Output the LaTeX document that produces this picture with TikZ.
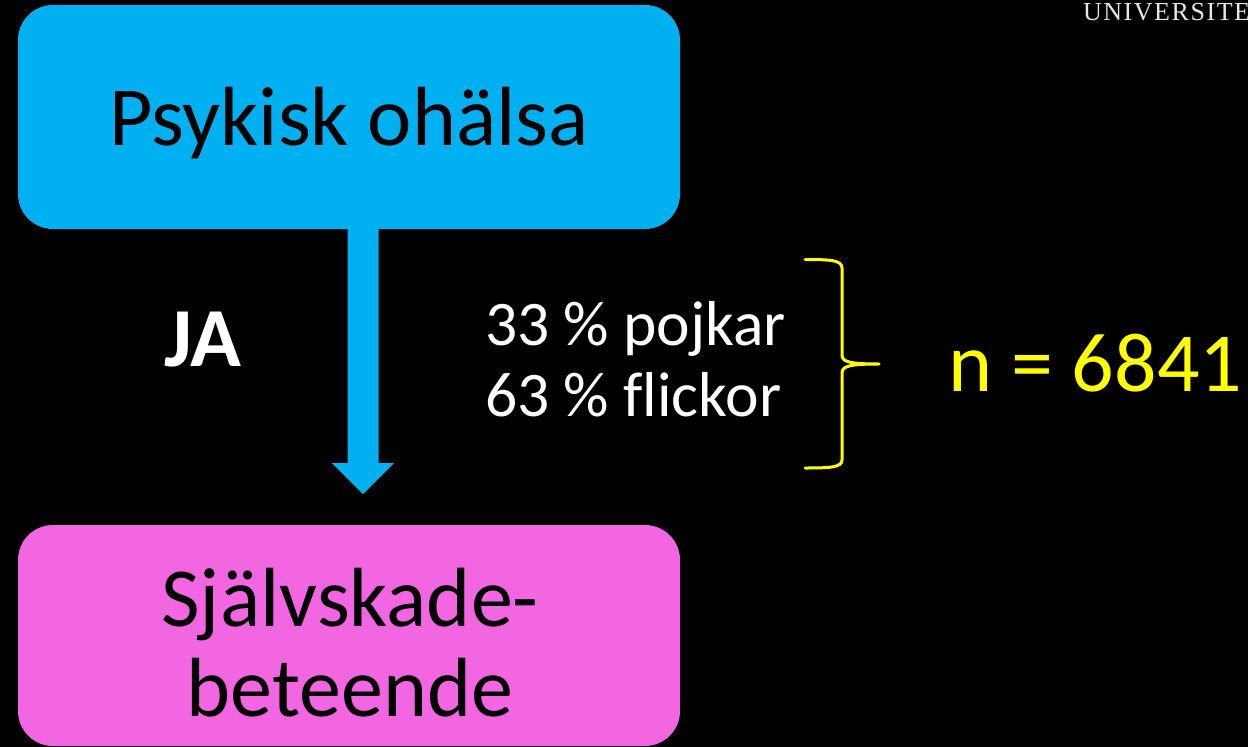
\documentclass[tikz,border=0pt]{standalone}
\usepackage{fontspec}
\setmainfont{Carlito}[Ligatures=NoCommon]
\newfontfamily\unifont[LetterSpace=6]{Liberation Serif}
\definecolor{boxblue}{HTML}{00B0F0}
\definecolor{boxpink}{HTML}{F266E2}
\definecolor{braceyellow}{HTML}{FFFF00}
\definecolor{unigray}{HTML}{E6E6E6}
\tikzset{
  box/.style={rectangle, rounded corners=35pt, draw=none, inner sep=0pt, outer sep=0pt},
  txt/.style={inner sep=0pt, outer sep=0pt},
  bigarrow/.style={fill=boxblue},
  bracepath/.style={draw=braceyellow, line width=3pt, line join=round, line cap=round}
}
\begin{document}
\begin{tikzpicture}[x=1pt, y=-1pt]
\fill[black] (0,0) rectangle (1248,747);
\useasboundingbox (0,0) rectangle (1248,747);
% boxes
\node[box, fill=boxblue, minimum width=662pt, minimum height=224pt] (psy) at (349,117) {};
\node[box, fill=boxpink, minimum width=662pt, minimum height=221pt] (self) at (349,635.5) {};
% box texts
\node[txt, anchor=base, font=\fontsize{84}{100}\selectfont] (psytext) at (349,145) {Psykisk ohälsa};
\node[txt, anchor=base, font=\fontsize{84}{100}\selectfont] (selftexta) at (350,626.7) {Självskade-};
\node[txt, anchor=base, font=\fontsize{84}{100}\selectfont] (selftextb) at (350,716.7) {beteende};
% arrow
\coordinate (tip) at (363,494);
\path (psy.south -| tip) coordinate (shaftstart);
\fill[bigarrow] ([xshift=-15.5pt]shaftstart) -- ([xshift=-15.5pt,yshift=31pt]tip)
  -- ([xshift=-31pt,yshift=31pt]tip) -- (tip) -- ([xshift=31pt,yshift=31pt]tip)
  -- ([xshift=15.5pt,yshift=31pt]tip) -- ([xshift=15.5pt]shaftstart) -- cycle;
% labels
\node[txt, anchor=base, text=white, font=\bfseries\fontsize{84}{100}\selectfont] (ja) at (203,366.7) {JA};
\node[txt, anchor=base west, text=white, font=\fontsize{63.5}{74}\selectfont] (boys) at (485,345) {33 \% pojkar};
\node[txt, anchor=base west, text=white, font=\fontsize{63.5}{74}\selectfont] (girls) at (485,416.7) {63 \% flickor};
% brace
\coordinate (bracetop) at (805,259.5);
\coordinate (bracetip) at (879,364);
\coordinate (bracebot) at (805,468);
\draw[bracepath] (bracetop) .. controls (830,259.5) and (842,260) .. (842,268)
  -- (842,355) .. controls (842,362) and (850,364) .. (bracetip)
  .. controls (850,364) and (842,366) .. (842,373)
  -- (842,460) .. controls (842,467.5) and (830,468) .. (bracebot);
\node[txt, anchor=base west, text=braceyellow, font=\fontsize{84}{100}\selectfont] (n) at (948,391.7) {n = 6841};
% university text
\node[txt, anchor=base west, text=unigray, font=\unifont\fontsize{26}{30}\selectfont] (uni) at (1083,20) {UNIVERSITE};
\end{tikzpicture}
\end{document}
